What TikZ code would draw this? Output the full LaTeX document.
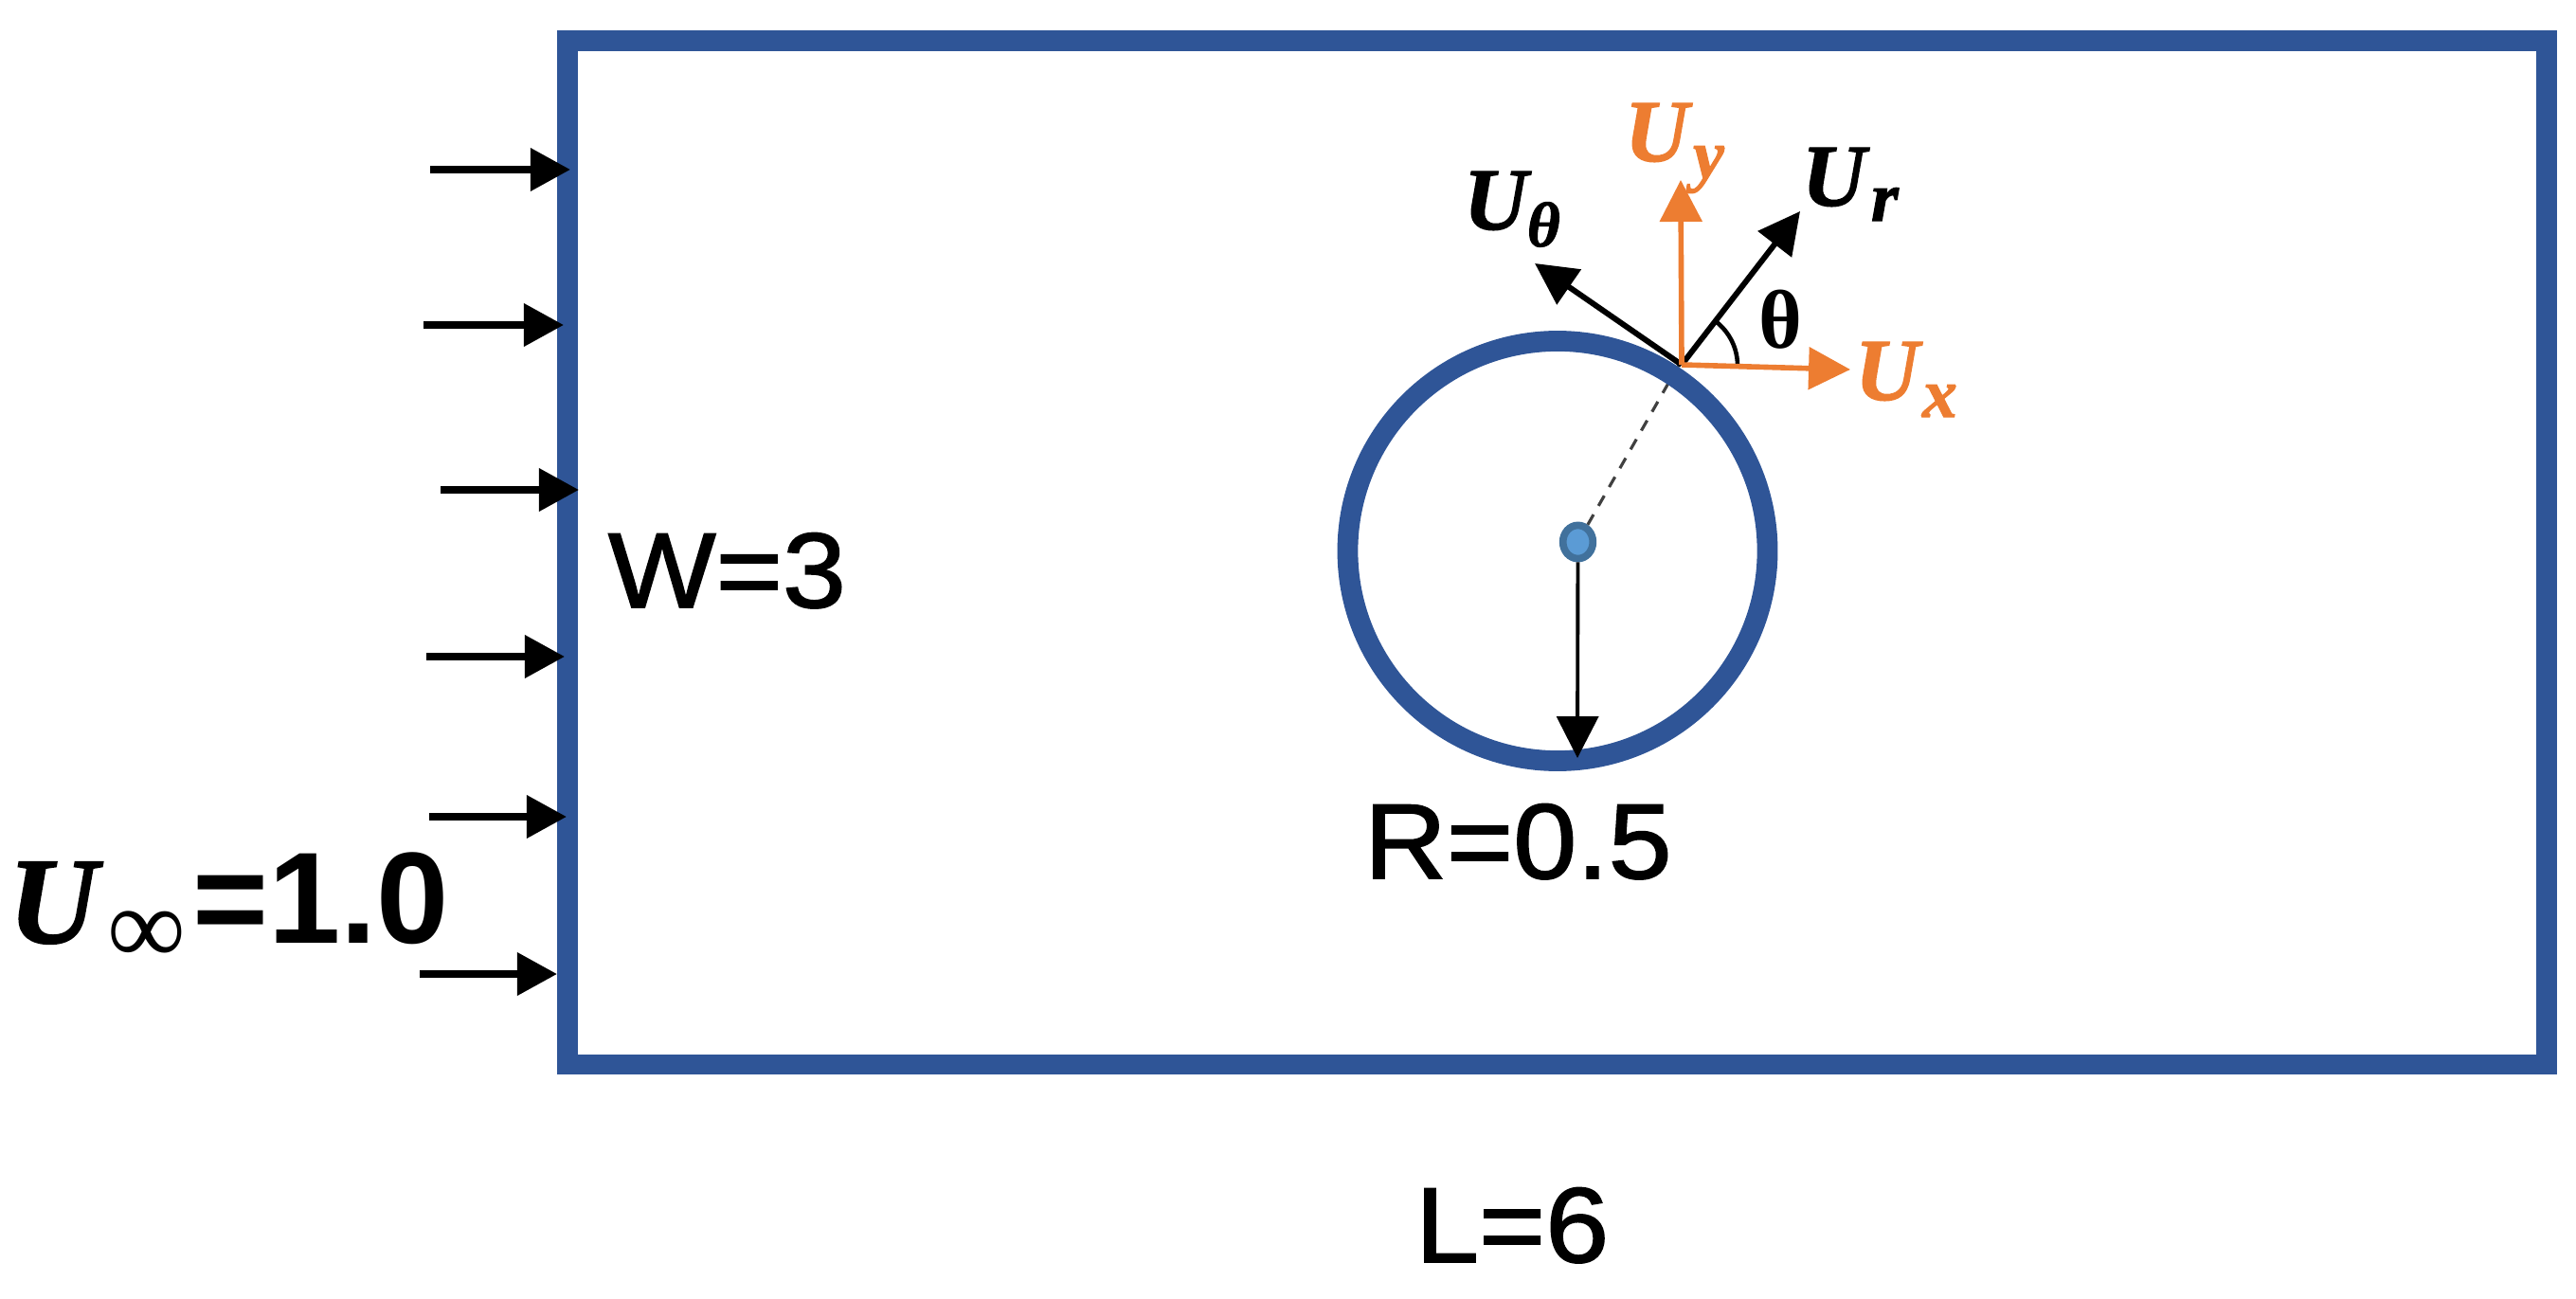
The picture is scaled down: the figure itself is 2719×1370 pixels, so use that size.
\documentclass[tikz,border=0pt]{standalone}
\usepackage{fontspec}
\setmainfont{Liberation Sans}
\newfontfamily\lab[FakeBold=1.5,FakeStretch=1.07]{Liberation Sans}
\newfontfamily\labw{Liberation Sans Bold}
\newfontfamily\mathf[FakeBold=1.5]{Liberation Serif Bold Italic}
\newfontfamily\mathr{Liberation Serif}
\newfontfamily\mathb{Liberation Serif Bold}
\usetikzlibrary{arrows.meta,shapes.geometric}
\definecolor{wallblue}{HTML}{2F5597}
\definecolor{vecorange}{HTML}{ED7D31}
\definecolor{dotfill}{HTML}{5B9BD5}
\definecolor{dotline}{HTML}{41719C}
\tikzset{
  txt/.style={inner sep=0pt,outer sep=0pt,anchor=base west},
  wall/.style={draw=wallblue,line width=6pt},
  inletarrow/.style={draw=black,line width=2.2pt,-{Triangle[length=12pt,width=12.5pt]}},
  blackvec/.style={draw=black,line width=1.7pt,-{Triangle[length=12.5pt,width=12.5pt]}},
  orangevec/.style={draw=vecorange,line width=1.6pt,-{Triangle[length=12.5pt,width=12.5pt]}},
  radiusvec/.style={draw=black,line width=1.1pt,-{Triangle[length=12.5pt,width=12.5pt]}},
  bigu/.style={txt,font=\fontsize{26.5}{26.5}\selectfont\mathf},
  subu/.style={txt,font=\fontsize{21}{21}\selectfont\mathf},
  dimlabel/.style={txt,font=\fontsize{32}{32}\selectfont\lab},
}
\begin{document}
\begin{tikzpicture}[x=0.01cm,y=-0.01cm]
\useasboundingbox (0,0) rectangle (2719,1370);
% domain
\draw[wall,line join=miter] (599,43) rectangle (2688,1123.5);
% named points
\coordinate (o) at (1775,385);
\coordinate (tx) at (1953,390);
\coordinate (ty) at (1774,190);
\coordinate (tr) at (1900,223);
\coordinate (tt) at (1620,278);
\coordinate (rtip) at (1665,800);
\coordinate (dashend) at (1772,385);
% dashed radius under the circle
\node[draw=dotline,fill=dotfill,line width=2.2pt,ellipse,inner sep=0pt,minimum width=9pt,minimum height=10pt] (dot) at (1665.5,572) {};
\draw[black!75,line width=0.9pt,dash pattern=on 3.5pt off 3pt] (dot) -- (dashend);
% cylinder
\node[draw=wallblue,line width=6.2pt,circle,inner sep=0pt,minimum size=126pt] (cyl) at (1644,581.5) {};
% radius
\draw[radiusvec] (dot) -- (rtip);
% velocity vectors
\draw[blackvec] (o) -- (tr);
\draw[blackvec] (o) -- (tt);
\draw[draw=black,line width=1.3pt] (1834,386) arc[start angle=0,end angle=52,radius=59*0.2845pt];
\draw[orangevec] (o) -- (ty);
\draw[orangevec] (o) -- (tx);
% inlet arrows
\foreach \n/\xa/\xb/\yy in {1/454/602/179,2/447/595/343,3/465/611/517,4/450/596/693,5/453/598/862,6/443/588/1028}{
  \coordinate (a\n) at (\xa,\yy);
  \coordinate (b\n) at (\xb,\yy);
  \draw[inletarrow] (a\n) -- (b\n);
}
% labels
\node[dimlabel] (lw) at (642,641) {W=3};
\node[dimlabel] (lr) at (1440,927) {R=0.5};
\node[dimlabel] (ll) at (1494,1332) {L=6};
\node[txt,font=\fontsize{25}{25}\selectfont\mathb] (lth) at (1856,367) {θ};
\node[bigu,text=vecorange] (uy) at (1715,170) {U};
\node[subu,text=vecorange] (uys) at (1787,188) {y};
\node[bigu] (ur) at (1902,217) {U};
\node[subu] (urs) at (1975,233) {r};
\node[bigu] (ut) at (1545,242) {U};
\node[txt,font=\fontsize{19}{19}\selectfont\mathf] (uts) at (1612,260) {θ};
\node[bigu,text=vecorange] (ux) at (1958,422) {U};
\node[subu,text=vecorange] (uxs) at (2029,440) {x};
\node[txt,font=\fontsize{37}{37}\selectfont\mathf] (uinf) at (9,995) {U};
\node[txt,font=\fontsize{33}{33}\selectfont\mathr] (uinfs) at (113,1017) {∞};
\node[txt,font=\fontsize{39}{39}\selectfont\labw] (uval) at (203,995) {=1.0};
\end{tikzpicture}
\end{document}
